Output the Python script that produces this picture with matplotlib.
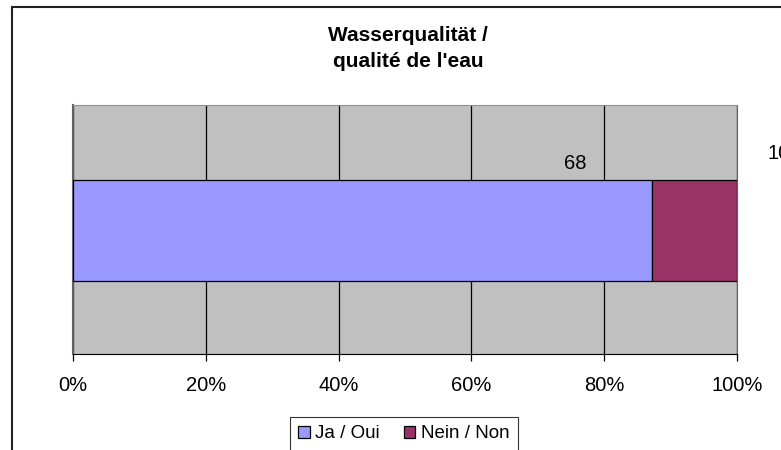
import matplotlib.pyplot as plt
from matplotlib.patches import Rectangle

# Data
categories = ["Ja / Oui", "Nein / Non"]
counts = [68, 10]
colors = ["#9999FF", "#993366"]
ticks = [0, 20, 40, 60, 80, 100]
tick_labels = ["0%", "20%", "40%", "60%", "80%", "100%"]
title = "Wasserqualität /\nqualité de l'eau"

plt.rcParams["font.family"] = ["Liberation Sans", "DejaVu Sans"]

W, H = 781, 450
fig = plt.figure(figsize=(W / 100, H / 100), dpi=100)
fig.patch.set_facecolor("white")

# outer chart border (cut off at right and bottom like the screenshot)
fig.patches.append(Rectangle((12 / W, -0.1), 1.2, 1 - 7 / H + 0.1,
                             transform=fig.transFigure, fill=False,
                             edgecolor="#222222", linewidth=1.5))

ax = fig.add_axes([73 / W, 1 - 354 / H, 664 / W, 249 / H])
ax.set_facecolor("#C0C0C0")

total = sum(counts)
shares = [c / total * 100 for c in counts]
bar_h = 0.4056
left = 0
for name, share, col in zip(categories, shares, colors):
    ax.barh(0, share, left=left, height=bar_h, color=col, edgecolor="black",
            linewidth=0.9, label=name, zorder=3)
    left += share

# value labels (Excel places them oddly above the bar)
cum = 0
offsets = [(-77, 16), (42, 26)]
for c, share, off in zip(counts, shares, offsets):
    cum += share
    ax.annotate(str(c), xy=(cum, bar_h / 2), xytext=off, textcoords="offset pixels",
                ha="center", va="center", fontsize=14.5, annotation_clip=False)

ax.set_xlim(0, 100)
ax.set_ylim(-0.496, 0.504)
ax.set_xticks(ticks)
ax.set_xticklabels(tick_labels, fontsize=14.5)
ax.tick_params(axis="x", length=5, width=0.9, pad=11, colors="black")
ax.set_yticks([])
ax.grid(axis="x", color="black", linewidth=0.9, zorder=1)
ax.spines["top"].set_color("#909090")
ax.spines["right"].set_color("#606060")
ax.spines["left"].set_color("#606060")
ax.spines["bottom"].set_color("black")
ax.spines["left"].set_linewidth(1.5)

fig.text(408 / W, 1 - 26 / H, title, ha="center", va="top",
         fontsize=15, fontweight="bold", linespacing=1.45)

leg = fig.legend(loc="upper center", bbox_to_anchor=(404 / W, 1 - 417 / H),
                 ncol=2, fontsize=13.5, frameon=True, fancybox=False,
                 edgecolor="black", handlelength=0.6, handleheight=0.6,
                 handletextpad=0.3, columnspacing=1.3, borderpad=0.45,
                 borderaxespad=0)
leg.get_frame().set_linewidth(0.8)

fig.savefig("out.png", dpi=100)
